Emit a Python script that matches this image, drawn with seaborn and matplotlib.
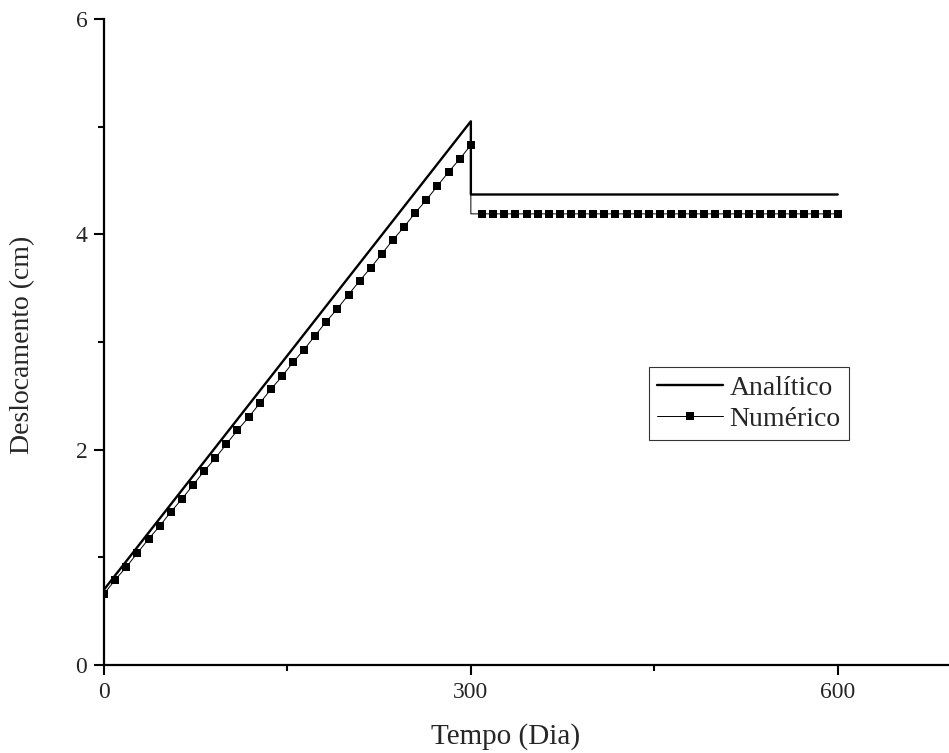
import matplotlib
matplotlib.use("Agg")
import matplotlib.pyplot as plt
import seaborn as sns
from matplotlib.ticker import MultipleLocator

# Analytical solution
t_analitico = [0, 300, 300, 600]
d_analitico = [0.70, 5.05, 4.37, 4.37]

# Numerical solution: rising branch up to day 300, drop, then constant branch
t_numerico = [0, 9.1, 18.2, 27.3, 36.4, 45.5, 54.5, 63.6, 72.7, 81.8,
              90.9, 100.0, 109.1, 118.2, 127.3, 136.4, 145.5, 154.5, 163.6, 172.7,
              181.8, 190.9, 200.0, 209.1, 218.2, 227.3, 236.4, 245.5, 254.5, 263.6,
              272.7, 281.8, 290.9, 300.0,
              300.0,
              309.1, 318.2, 327.3, 336.4, 345.5, 354.5, 363.6, 372.7, 381.8, 390.9,
              400.0, 409.1, 418.2, 427.3, 436.4, 445.5, 454.5, 463.6, 472.7, 481.8,
              490.9, 500.0, 509.1, 518.2, 527.3, 536.4, 545.5, 554.5, 563.6, 572.7,
              581.8, 590.9, 600.0]
d_numerico = [0.66, 0.79, 0.91, 1.04, 1.17, 1.29, 1.42, 1.54, 1.67, 1.80,
              1.92, 2.05, 2.18, 2.30, 2.43, 2.56, 2.68, 2.81, 2.93, 3.06,
              3.19, 3.31, 3.44, 3.57, 3.69, 3.82, 3.95, 4.07, 4.20, 4.32,
              4.45, 4.58, 4.70, 4.83,
              4.19,
              4.19, 4.19, 4.19, 4.19, 4.19, 4.19, 4.19, 4.19, 4.19, 4.19,
              4.19, 4.19, 4.19, 4.19, 4.19, 4.19, 4.19, 4.19, 4.19, 4.19,
              4.19, 4.19, 4.19, 4.19, 4.19, 4.19, 4.19, 4.19, 4.19, 4.19,
              4.19, 4.19, 4.19]

# the corner point at the drop carries no marker
corner = 34
marcas = [i for i in range(len(t_numerico)) if i != corner]

sns.set_style("ticks")
plt.rcParams["font.family"] = ["Liberation Serif", "DejaVu Serif"]

fig = plt.figure(figsize=(9.49, 7.53), dpi=100)
ax = fig.add_axes([104 / 949, 88 / 753, 845 / 949, 646 / 753])

sns.lineplot(x=t_analitico, y=d_analitico, ax=ax, estimator=None, sort=False,
             color="black", linewidth=1.7, label="Analítico")
sns.lineplot(x=t_numerico, y=d_numerico, ax=ax, estimator=None, sort=False,
             color="black", linewidth=0.7, marker="s", markersize=5.5,
             markeredgewidth=0, markevery=marcas, label="Numérico")

ax.set_xlim(0, 691)
ax.set_ylim(0, 6)
ax.xaxis.set_major_locator(MultipleLocator(300))
ax.xaxis.set_minor_locator(MultipleLocator(150))
ax.yaxis.set_major_locator(MultipleLocator(2))
ax.yaxis.set_minor_locator(MultipleLocator(1))
ax.tick_params(axis="both", which="major", direction="out", length=7, width=1.5,
               labelsize=17, color="black", pad=5)
ax.tick_params(axis="both", which="minor", direction="out", length=4, width=1.5,
               color="black")

for side in ["top", "right"]:
    ax.spines[side].set_visible(False)
for side in ["left", "bottom"]:
    ax.spines[side].set_linewidth(1.6)
    ax.spines[side].set_color("black")

ax.set_xlabel("Tempo (Dia)", fontsize=21)
ax.set_ylabel("Deslocamento (cm)", fontsize=20)
ax.xaxis.set_label_coords((506 - 104) / 845, -0.09)
ax.yaxis.set_label_coords(-0.082, (665 - 345) / 646)

leg = ax.legend(loc="upper left", bbox_to_anchor=((649 - 104) / 845, (665 - 367) / 646),
                fontsize=20, frameon=True, fancybox=False, edgecolor="black",
                borderpad=0.3, handlelength=2.35, handletextpad=0.25,
                labelspacing=0.2, borderaxespad=0)
leg.get_frame().set_linewidth(0.8)

fig.savefig("out.png", dpi=100)
